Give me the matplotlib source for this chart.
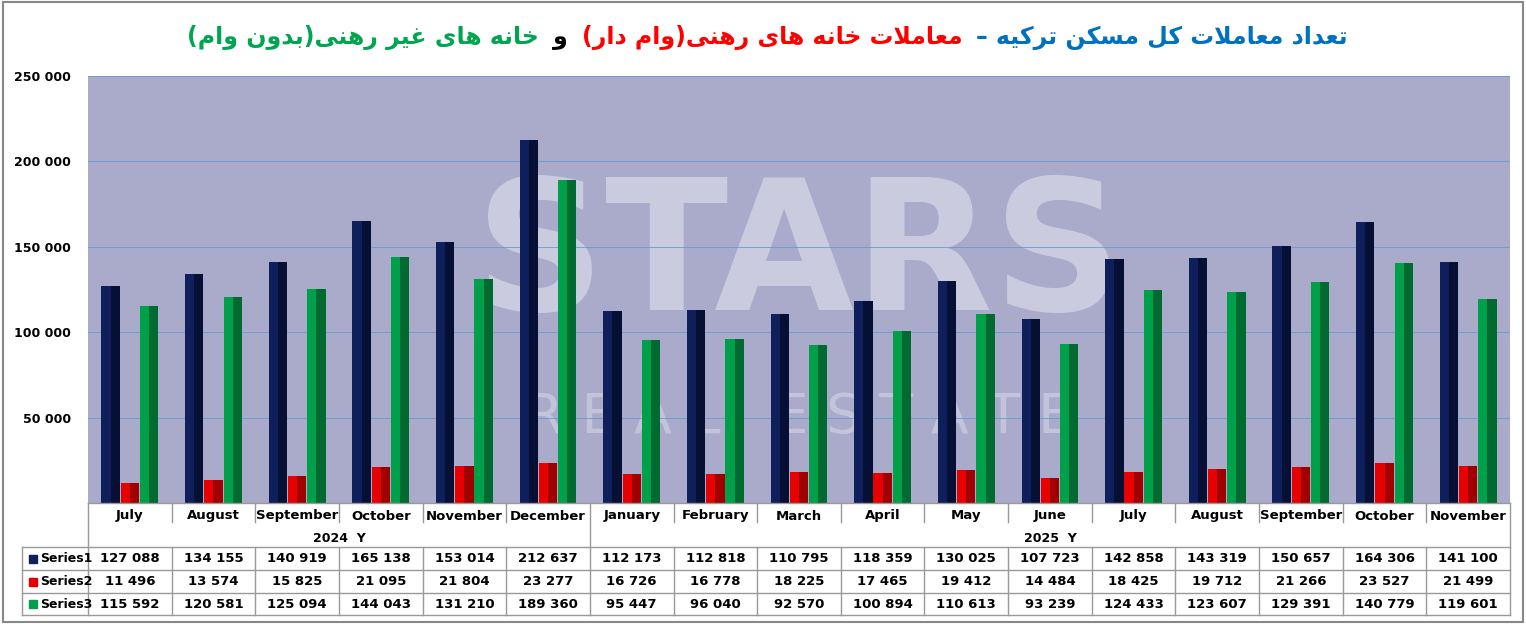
import matplotlib
matplotlib.use("Agg")
import matplotlib.pyplot as plt
import numpy as np
from matplotlib.lines import Line2D

months = ["July","August","September","October","November","December","January","February","March",
          "April","May","June","July","August","September","October","November"]
years = ["2024  Y", "2025  Y"]
year_counts = [6, 11]
series_names = ["Series1", "Series2", "Series3"]
s1 = [127088,134155,140919,165138,153014,212637,112173,112818,110795,118359,130025,107723,142858,143319,150657,164306,141100]
s2 = [11496,13574,15825,21095,21804,23277,16726,16778,18225,17465,19412,14484,18425,19712,21266,23527,21499]
s3 = [115592,120581,125094,144043,131210,189360,95447,96040,92570,100894,110613,93239,124433,123607,129391,140779,119601]
title_parts = [("خانه های غیر رهنی(بدون وام)", "#00A550"), ("و", "black"),
               ("معاملات خانه های رهنی(وام دار)", "#FF0000"), ("تعداد معاملات کل مسکن ترکیه –", "#0070C0")]

# --- minimal Persian shaper ---
F = {'ا':(0xFE8D,0xFE8E,None,None),'ب':(0xFE8F,0xFE90,0xFE91,0xFE92),'ت':(0xFE95,0xFE96,0xFE97,0xFE98),
     'خ':(0xFEA5,0xFEA6,0xFEA7,0xFEA8),'د':(0xFEA9,0xFEAA,None,None),'ر':(0xFEAD,0xFEAE,None,None),
     'س':(0xFEB1,0xFEB2,0xFEB3,0xFEB4),'ع':(0xFEC9,0xFECA,0xFECB,0xFECC),'غ':(0xFECD,0xFECE,0xFECF,0xFED0),
     'ل':(0xFEDD,0xFEDE,0xFEDF,0xFEE0),'م':(0xFEE1,0xFEE2,0xFEE3,0xFEE4),'ن':(0xFEE5,0xFEE6,0xFEE7,0xFEE8),
     'ه':(0xFEE9,0xFEEA,0xFEEB,0xFEEC),'و':(0xFEED,0xFEEE,None,None),'ک':(0xFB8E,0xFB8F,0xFB90,0xFB91),
     'ی':(0xFBFC,0xFBFD,0xFBFE,0xFBFF),'LA':(0xFEFB,0xFEFC,None,None)}
def shape(s):
    chars = []
    i = 0
    while i < len(s):
        if s[i] == 'ل' and i+1 < len(s) and s[i+1] == 'ا':
            chars.append('LA'); i += 2
        else:
            chars.append(s[i]); i += 1
    out = []
    for k, c in enumerate(chars):
        if c not in F:
            out.append({'(' : ')', ')' : '('}.get(c, c)); continue
        prev = chars[k-1] if k > 0 else None
        nxt = chars[k+1] if k+1 < len(chars) else None
        jp = prev in F and F[prev][2] is not None
        jn = nxt in F and F[c][2] is not None
        f = F[c]
        if jp and jn: g = f[3]
        elif jp: g = f[1]
        elif jn: g = f[2]
        else: g = f[0]
        out.append(chr(g))
    return ''.join(reversed(out))

W, H = 1526, 624
fig = plt.figure(figsize=(W/100, H/100), dpi=100)
fig.patches.append(plt.Rectangle((0.002, 0.003), 0.996, 0.994, transform=fig.transFigure,
                                 fill=False, ec="#888888", lw=1.5))
def fx(x): return x / W
def fy(y): return 1 - y / H

L, R, T, B = 88, 1510, 76, 503
ax = fig.add_axes([fx(L), fy(B), fx(R) - fx(L), fy(T) - fy(B)])
ax.set_facecolor("#AAAACB")
n = len(months)
x = np.arange(n)
ax.set_xlim(-0.5, n - 0.5)
ax.set_ylim(0, 250000)
ax.set_yticks([50000, 100000, 150000, 200000, 250000])
ax.set_yticklabels([f"{v:,}".replace(",", " ") for v in [50000,100000,150000,200000,250000]],
                   fontsize=9, fontweight="bold")
ax.tick_params(axis="y", length=0, pad=12)
ax.set_xticks([])
ax.grid(axis="y", color="#5B9BD5", lw=0.7, alpha=0.8)
ax.set_axisbelow(True)
for sp in ax.spines.values():
    sp.set_visible(False)

# watermark
ax.text(0.5, 0.57, "STARS", transform=ax.transAxes, ha="center", va="center", fontsize=130,
        fontweight="bold", color="white", alpha=0.4, zorder=0.5)
ax.text(0.5, 0.2, "R E A L   E S T A T E", transform=ax.transAxes, ha="center", va="center",
        fontsize=40, color="white", alpha=0.3, zorder=0.5)

bw = 0.22
cols = [("#0E1F5B", "#061035"), ("#E60000", "#A00000"), ("#00A04A", "#006A30")]
for j, (vals, (c, cd)) in enumerate(zip([s1, s2, s3], cols)):
    off = (j - 1) * 0.23
    ax.bar(x + off, vals, bw, color=c, zorder=3)
    ax.bar(x + off + bw * 0.25, vals, bw * 0.5, color=cd, zorder=3.1)

# table
tl = 22
rows_y = [503, 530, 547, 570, 593, 615]
lc = "#999999"
def hline(y, x0, x1):
    fig.add_artist(Line2D([fx(x0), fx(x1)], [fy(y), fy(y)], color=lc, lw=1))
def vline(xp, y0, y1):
    fig.add_artist(Line2D([fx(xp), fx(xp)], [fy(y0), fy(y1)], color=lc, lw=1))
cw = (R - L) / n
hline(503, L, R)
hline(547, tl, R); hline(570, tl, R); hline(593, tl, R); hline(615, tl, R)
vline(tl, 547, 615); vline(L, 503, 615); vline(R, 503, 615)
for i in range(1, n):
    xp = L + i * cw
    if i == year_counts[0]:
        vline(xp, 503, 615)
    else:
        vline(xp, 503, 522); vline(xp, 547, 615)
for i, m in enumerate(months):
    fig.text(fx(L + (i + 0.5) * cw), fy(516), m, ha="center", va="center", fontsize=9.5, fontweight="bold")
start = 0
for yl, cnt in zip(years, year_counts):
    fig.text(fx(L + (start + cnt / 2) * cw), fy(538), yl, ha="center", va="center", fontsize=9, fontweight="bold")
    start += cnt
for r, (name, vals, (c, cd)) in enumerate(zip(series_names, [s1, s2, s3], cols)):
    yc = (rows_y[2 + r] + rows_y[3 + r]) / 2
    fig.patches.append(plt.Rectangle((fx(29), fy(yc + 4)), fx(8), 8 / H, transform=fig.transFigure, color=c))
    fig.text(fx(40), fy(yc), name, ha="left", va="center", fontsize=9, fontweight="bold")
    for i, v in enumerate(vals):
        fig.text(fx(L + (i + 0.5) * cw), fy(yc), f"{v:,}".replace(",", " "), ha="center", va="center",
                 fontsize=9.5, fontweight="bold")

# title
fig.canvas.draw()
rend = fig.canvas.get_renderer()
texts = []
gap = 14
for s, c in title_parts:
    t = fig.text(0, fy(38), shape(s), color=c, fontsize=17, fontweight="bold", va="center", ha="left",
                 family=["DejaVu Sans"])
    texts.append(t)
widths = [t.get_window_extent(rend).width for t in texts]
total = sum(widths) + gap * (len(widths) - 1)
xs = 1348 - total
for t, w in zip(texts, widths):
    t.set_x(xs / W)
    xs += w + gap

fig.savefig("out.png", dpi=100)
